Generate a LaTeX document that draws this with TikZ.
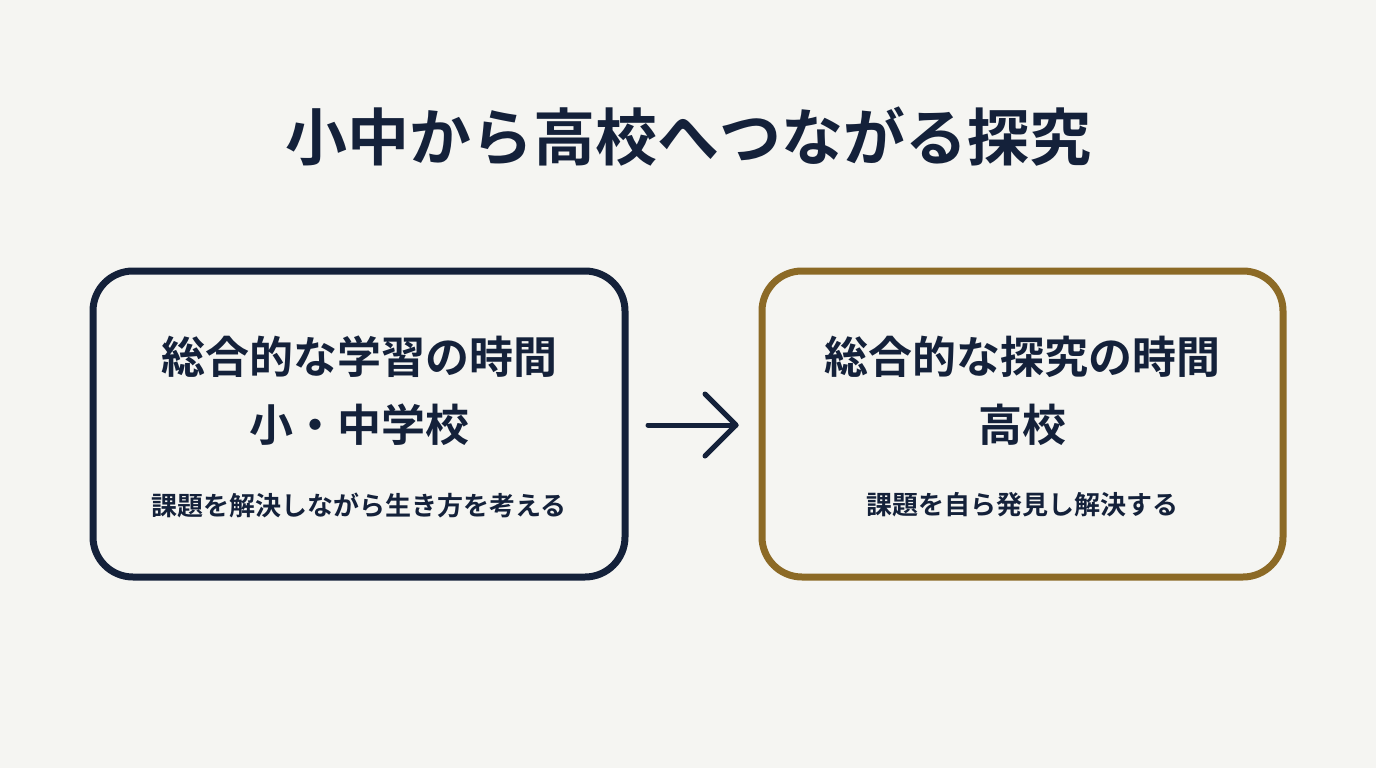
\documentclass[tikz,border=0pt]{standalone}
\usepackage{fontspec}
\setmainfont{Noto Sans CJK JP}[BoldFont={Noto Sans CJK JP Bold}]
\definecolor{bg}{HTML}{F5F5F2}
\definecolor{navy}{HTML}{14213A}
\definecolor{gold}{HTML}{8C6A26}
\begin{document}
\begin{tikzpicture}[x=1pt,y=-1pt,
  box/.style={line width=7pt,rounded corners=40pt},
  head/.style={font=\bfseries\fontsize{44}{50}\selectfont,text=navy,anchor=center},
  sub/.style={font=\bfseries\fontsize{26}{30}\selectfont,text=navy,anchor=center}]
\fill[bg] (0,0) rectangle (1376,768);
\useasboundingbox (0,0) rectangle (1376,768);
\node[font=\bfseries\fontsize{62}{70}\selectfont,text=navy] (title) at (688,137) {小中から高校へつながる探究};
\draw[box,draw=navy] (93,271) rectangle (625,577);
\node (lbox) at (359,424) {};
\draw[box,draw=gold] (762,271) rectangle (1283,577);
\node (rbox) at (1022,424) {};
\node[head] (l1) at (359,357) {総合的な学習の時間};
\node[head] (l2) at (359,425) {小・中学校};
\node[sub] (l3) at (359,505) {課題を解決しながら生き方を考える};
\node[head] (r1) at (1022,357) {総合的な探究の時間};
\node[head] (r2) at (1022,425) {高校};
\node[sub] (r3) at (1022,505) {課題を自ら発見し解決する};
\coordinate (a1) at (648,425);
\coordinate (a2) at (736,425);
\draw[navy,line width=5pt,line cap=round,line join=round] (a1) -- (a2);
\draw[navy,line width=5pt,line cap=round,line join=round] (705,394) -- (a2) -- (705,456);
\end{tikzpicture}
\end{document}
